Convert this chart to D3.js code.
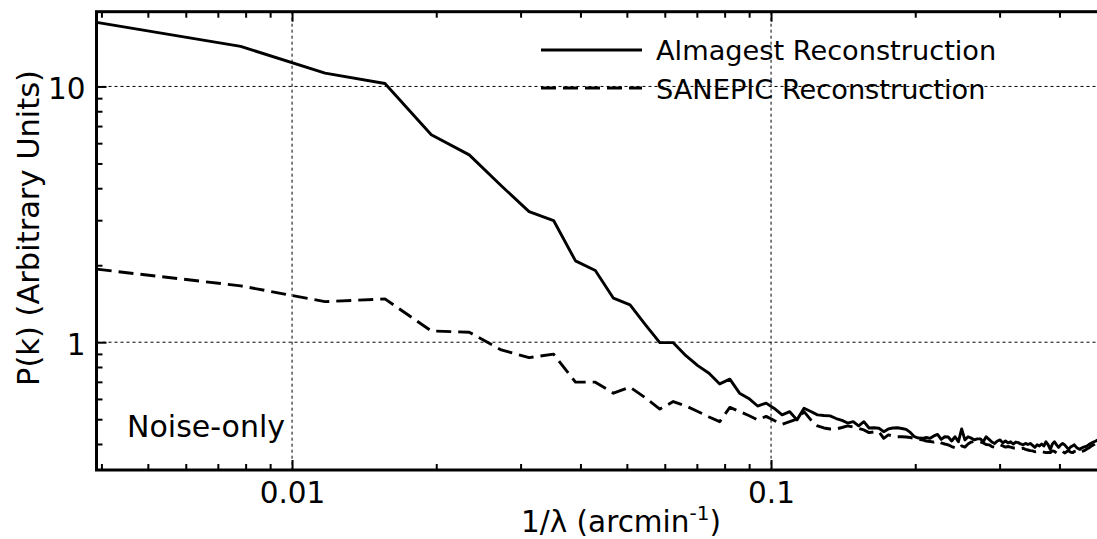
<!DOCTYPE html>
<html>
<head>
  <title>Power spectrum</title>
  <meta charset="utf-8">
  <script src="https://d3js.org/d3.v7.min.js"></script>
  <style type="text/css">
    body { margin: 0; background: #fff; }
    svg { display: block; }
    text { font-family: "DejaVu Sans", sans-serif; fill: #000; }
  </style>
</head>
<body>
  <div id="chart"></div>
<script type="text/javascript">
  // spatial frequency 1/lambda (arcmin^-1)
  const k = [0.00391, 0.00781, 0.01172, 0.01563, 0.01953, 0.02344, 0.02734, 0.03125, 0.03516, 0.03906,
    0.04297, 0.04688, 0.05078, 0.05469, 0.05859, 0.0625, 0.06641, 0.07031, 0.07422, 0.07813,
    0.08203, 0.08594, 0.08984, 0.09375, 0.09766, 0.10156, 0.10547, 0.10938, 0.11328, 0.11719,
    0.12109, 0.125, 0.12891, 0.13281, 0.13672, 0.14063, 0.14453, 0.14844, 0.15234, 0.15625,
    0.16016, 0.16406, 0.16797, 0.17188, 0.17578, 0.17969, 0.18359, 0.1875, 0.19141, 0.19531,
    0.19922, 0.20313, 0.20703, 0.21094, 0.21484, 0.21875, 0.22266, 0.22656, 0.23047, 0.23438,
    0.23828, 0.24219, 0.24609, 0.25, 0.25391, 0.25781, 0.26172, 0.26563, 0.26953, 0.27344,
    0.27734, 0.28125, 0.28516, 0.28906, 0.29297, 0.29688, 0.30078, 0.30469, 0.30859, 0.3125,
    0.31641, 0.32031, 0.32422, 0.32813, 0.33203, 0.33594, 0.33984, 0.34375, 0.34766, 0.35156,
    0.35547, 0.35938, 0.36328, 0.36719, 0.37109, 0.375, 0.37891, 0.38281, 0.38672, 0.39063,
    0.39453, 0.39844, 0.40234, 0.40625, 0.41016, 0.41406, 0.41797, 0.42188, 0.42578, 0.42969,
    0.43359, 0.4375, 0.44141, 0.44531, 0.44922, 0.45313, 0.45703, 0.46094, 0.46484, 0.46875,
    0.47266, 0.47656, 0.48047];

  const almagest = [17.80, 14.34, 11.28, 10.27, 6.47, 5.40, 4.09, 3.24, 2.99, 2.08,
    1.906, 1.486, 1.399, 1.169, 0.996, 0.996, 0.886, 0.810, 0.756, 0.687,
    0.717, 0.632, 0.603, 0.563, 0.578, 0.551, 0.520, 0.535, 0.497, 0.552,
    0.536, 0.520, 0.517, 0.515, 0.503, 0.495, 0.483, 0.489, 0.471, 0.489,
    0.462, 0.463, 0.461, 0.447, 0.458, 0.462, 0.463, 0.460, 0.456, 0.444,
    0.427, 0.422, 0.421, 0.424, 0.421, 0.430, 0.436, 0.417, 0.427, 0.426,
    0.411, 0.427, 0.408, 0.458, 0.415, 0.427, 0.422, 0.415, 0.419, 0.419,
    0.408, 0.427, 0.417, 0.407, 0.402, 0.411, 0.415, 0.404, 0.411, 0.404,
    0.408, 0.400, 0.407, 0.405, 0.400, 0.397, 0.402, 0.398, 0.402, 0.395,
    0.388, 0.397, 0.393, 0.400, 0.393, 0.408, 0.397, 0.381, 0.400, 0.408,
    0.397, 0.388, 0.397, 0.402, 0.397, 0.389, 0.381, 0.389, 0.393, 0.397,
    0.389, 0.384, 0.381, 0.386, 0.389, 0.391, 0.393, 0.398, 0.402, 0.405,
    0.408, 0.411, 0.415];

  const sanepic = [1.930, 1.661, 1.441, 1.477, 1.107, 1.094, 0.933, 0.870, 0.898, 0.698,
    0.698, 0.632, 0.667, 0.606, 0.548, 0.586, 0.563, 0.536, 0.510, 0.489,
    0.556, 0.536, 0.517, 0.497, 0.513, 0.494, 0.478, 0.489, 0.500, 0.535,
    0.497, 0.471, 0.462, 0.458, 0.458, 0.464, 0.471, 0.466, 0.460, 0.454,
    0.443, 0.446, 0.447, 0.421, 0.434, 0.430, 0.427, 0.427, 0.426, 0.424,
    0.421, 0.417, 0.415, 0.411, 0.409, 0.407, 0.411, 0.404, 0.400, 0.397,
    0.391, 0.387, 0.383, 0.393, 0.389, 0.400, 0.407, 0.409, 0.408, 0.408,
    0.404, 0.398, 0.397, 0.391, 0.388, 0.393, 0.397, 0.393, 0.389, 0.391,
    0.389, 0.386, 0.386, 0.385, 0.383, 0.385, 0.381, 0.379, 0.377, 0.376,
    0.373, 0.374, 0.372, 0.374, 0.372, 0.370, 0.371, 0.370, 0.376, 0.374,
    0.369, 0.371, 0.376, 0.374, 0.369, 0.373, 0.377, 0.372, 0.370, 0.374,
    0.376, 0.372, 0.370, 0.374, 0.376, 0.379, 0.383, 0.386, 0.391, 0.395,
    0.398, 0.402, 0.402];

  const seriesNames = ['Almagest Reconstruction', 'SANEPIC Reconstruction'];
  const xMajor = [0.01, 0.1];
  const xMajorLabels = ['0.01', '0.1'];
  const yMajor = [1, 10];
  const yMajorLabels = ['1', '10'];

  const width = 1097, height = 539;
  const plotLeft = 96.5, plotTop = 11.7, plotBottom = 470;
  const plotRight = plotLeft + 479 * Math.log10(128);

  const x = d3.scaleLog().domain([1 / 256, 0.5]).range([plotLeft, plotRight]);
  const y = d3.scaleLog().domain([0.3165, 19.6]).range([plotBottom, plotTop]);

  const svg = d3.select('#chart').append('svg')
    .attr('width', width)
    .attr('height', height);

  svg.append('defs').append('clipPath').attr('id', 'plot-clip')
    .append('rect')
      .attr('x', plotLeft).attr('y', plotTop)
      .attr('width', plotRight - plotLeft).attr('height', plotBottom - plotTop);

  // grid
  const grid = svg.append('g');
  grid.selectAll('.vgrid').data(xMajor).enter()
    .append('line')
      .attr('x1', d => x(d)).attr('x2', d => x(d))
      .attr('y1', plotTop).attr('y2', plotBottom)
      .attr('stroke', '#000').attr('stroke-width', 1).attr('stroke-dasharray', '3,3');
  grid.selectAll('.hgrid').data(yMajor).enter()
    .append('line')
      .attr('x1', plotLeft).attr('x2', plotRight)
      .attr('y1', d => y(d)).attr('y2', d => y(d))
      .attr('stroke', '#000').attr('stroke-width', 1).attr('stroke-dasharray', '3,3');

  // curves
  const line = d3.line().x(d => x(d[0])).y(d => y(d[1]));
  const plot = svg.append('g').attr('clip-path', 'url(#plot-clip)');
  plot.append('path')
    .datum(k.map((v, i) => [v, almagest[i]]))
    .attr('d', line)
    .attr('fill', 'none').attr('stroke', '#000').attr('stroke-width', 2.9)
    .attr('stroke-linejoin', 'round');
  plot.append('path')
    .datum(k.map((v, i) => [v, sanepic[i]]))
    .attr('d', line)
    .attr('fill', 'none').attr('stroke', '#000').attr('stroke-width', 2.9)
    .attr('stroke-linejoin', 'round').attr('stroke-dasharray', '15,7');

  // ticks
  const isMajor = v => Math.abs(Math.log10(v) - Math.round(Math.log10(v))) < 1e-6;
  const xMinor = x.ticks().filter(v => !isMajor(v));
  const yMinor = y.ticks().filter(v => !isMajor(v));

  const styleAxis = g => {
    g.select('.domain').remove();
    g.selectAll('.tick line').attr('stroke', '#000').attr('stroke-width', 2);
    g.selectAll('.tick text').attr('font-size', 29.5).attr('fill', '#000')
      .attr('font-family', '"DejaVu Sans", sans-serif');
  };

  svg.append('g').attr('transform', `translate(0,${plotBottom})`)
    .call(d3.axisBottom(x).tickValues(xMajor).tickSize(-10).tickPadding(12)
      .tickFormat((d, i) => xMajorLabels[i]))
    .call(styleAxis);
  svg.append('g').attr('transform', `translate(0,${plotBottom})`)
    .call(d3.axisBottom(x).tickValues(xMinor).tickSize(-6).tickFormat(''))
    .call(styleAxis);
  svg.append('g').attr('transform', `translate(0,${plotTop})`)
    .call(d3.axisTop(x).tickValues(xMajor).tickSize(-10).tickFormat(''))
    .call(styleAxis);
  svg.append('g').attr('transform', `translate(0,${plotTop})`)
    .call(d3.axisTop(x).tickValues(xMinor).tickSize(-6).tickFormat(''))
    .call(styleAxis);

  const yAx = svg.append('g').attr('transform', `translate(${plotLeft},0)`)
    .call(d3.axisLeft(y).tickValues(yMajor).tickSize(-10).tickPadding(11)
      .tickFormat((d, i) => yMajorLabels[i]))
    .call(styleAxis);
  yAx.selectAll('.tick text').attr('dy', '0.4em');
  svg.append('g').attr('transform', `translate(${plotLeft},0)`)
    .call(d3.axisLeft(y).tickValues(yMinor).tickSize(-6).tickFormat(''))
    .call(styleAxis);

  // frame
  svg.append('rect')
    .attr('x', plotLeft).attr('y', plotTop)
    .attr('width', plotRight - plotLeft).attr('height', plotBottom - plotTop)
    .attr('fill', 'none').attr('stroke', '#000').attr('stroke-width', 3);

  // axis labels
  const xl = svg.append('text')
    .attr('x', 621).attr('y', 532)
    .attr('text-anchor', 'middle').attr('font-size', 29.5);
  xl.append('tspan').text('1/\u03bb (arcmin');
  xl.append('tspan').attr('font-size', 20).attr('dy', -12).text('-1');
  xl.append('tspan').attr('dy', 12).text(')');

  svg.append('text')
    .attr('transform', 'translate(39,228) rotate(-90)')
    .attr('text-anchor', 'middle').attr('font-size', 30.5)
    .text('P(k) (Arbitrary Units)');

  svg.append('text')
    .attr('x', 127).attr('y', 437)
    .attr('font-size', 30)
    .text('Noise-only');

  // legend
  const legend = svg.append('g');
  const legendRows = [
    { name: seriesNames[0], dash: null, ly: 50, ty: 60 },
    { name: seriesNames[1], dash: '15,7', ly: 88, ty: 99 }
  ];
  legendRows.forEach(r => {
    legend.append('line')
      .attr('x1', 541).attr('x2', 642).attr('y1', r.ly).attr('y2', r.ly)
      .attr('stroke', '#000').attr('stroke-width', 2.9)
      .attr('stroke-dasharray', r.dash);
    legend.append('text')
      .attr('x', 656).attr('y', r.ty)
      .attr('font-size', 27.2)
      .text(r.name);
  });
</script>
</body>
</html>
